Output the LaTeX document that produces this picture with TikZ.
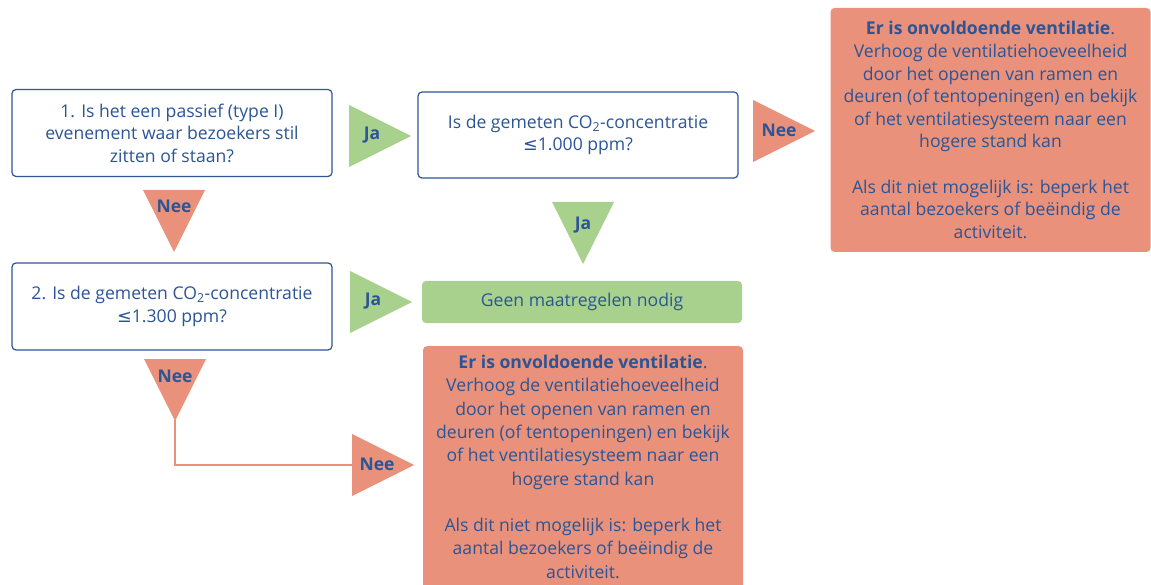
\documentclass[tikz,border=0pt]{standalone}
\usepackage{fontspec}
\setmainfont{Open Sans}
\newfontfamily\symfont{DejaVu Sans}
\definecolor{txtblue}{HTML}{2B5597}
\definecolor{boxblue}{HTML}{2F5597}
\definecolor{salmon}{HTML}{E9917B}
\definecolor{lgreen}{HTML}{A9D18E}
\newcommand{\lesym}{{\symfont ≤}}
\begin{document}
\begin{tikzpicture}[x=1pt,y=-1pt,
  every node/.style={text=txtblue, font=\fontsize{17.6}{22.6}\selectfont},
  qbox/.style={draw=boxblue, line width=1.2pt, rounded corners=4pt, fill=white,
    minimum width=320pt, align=center, inner sep=0pt},
  redbox/.style={fill=salmon, rounded corners=4pt, minimum width=320pt, inner sep=0pt, align=center},
  greenbox/.style={fill=lgreen, rounded corners=4pt, minimum width=320pt, minimum height=42pt, inner sep=0pt},
  lbl/.style={font=\fontsize{17.5}{18}\selectfont\bfseries, inner sep=0pt},
  conn/.style={draw=salmon, line width=2pt}
]
\useasboundingbox (0,0) rectangle (1151,585);
\clip (0,0) rectangle (1151,585);

% question boxes
\node[qbox, minimum height=87pt] (q1) at (172,133)
  {1. Is het een passief (type I)\\evenement waar bezoekers stil\\zitten of staan?};
\node[qbox, minimum height=86pt] (q1000) at (578,135)
  {Is de gemeten CO\textsubscript{2}-concentratie\\\lesym1.000 ppm?};
\node[qbox, minimum height=87pt] (q2) at (172,306.5)
  {2. Is de gemeten CO\textsubscript{2}-concentratie\\\lesym1.300 ppm?};

% outcome boxes
\node[greenbox] (geen) at (582,302) {Geen maatregelen nodig};
\node[redbox, minimum height=244pt] (red1) at (990.5,130)
  {\textbf{Er is onvoldoende ventilatie}.\\Verhoog de ventilatiehoeveelheid\\door het openen van ramen en\\deuren (of tentopeningen) en bekijk\\of het ventilatiesysteem naar een\\hogere stand kan\\[22.6pt]Als dit niet mogelijk is: beperk het\\aantal bezoekers of beëindig de\\activiteit.};
\node[redbox, minimum height=260pt, anchor=north] (red2) at (583,346) {};
\node[anchor=north, align=center, inner sep=0pt, font=\fontsize{17.6}{23.3}\selectfont] (red2txt) at (583,355)
  {\textbf{Er is onvoldoende ventilatie}.\\Verhoog de ventilatiehoeveelheid\\door het openen van ramen en\\deuren (of tentopeningen) en bekijk\\of het ventilatiesysteem naar een\\hogere stand kan\\[23.3pt]Als dit niet mogelijk is: beperk het\\aantal bezoekers of beëindig de\\activiteit.};

% triangles
\fill[lgreen] (349,105) -- (411,136) -- (349,167) -- cycle;
\node[lbl] (ja1) at (372,135) {Ja};
\fill[salmon] (753,100) -- (815,131) -- (753,162) -- cycle;
\node[lbl] (nee1) at (779,130) {Nee};
\fill[salmon] (143,190) -- (205,190) -- (174,252) -- cycle;
\node[lbl] (nee2) at (174,206) {Nee};
\fill[lgreen] (552,202) -- (614,202) -- (583,264) -- cycle;
\node[lbl] (ja3) at (583,225) {Ja};
\fill[lgreen] (350,271) -- (412,302) -- (350,333) -- cycle;
\node[lbl] (ja2) at (373,301) {Ja};

% connector from second Nee
\coordinate (n3apex) at (175,420);
\coordinate (n4left) at (353,465);
\draw[conn] (n3apex) |- (n4left);
\fill[salmon] (144,359) -- (206,359) -- (175,421) -- cycle;
\node[lbl] (nee3) at (175,376) {Nee};
\fill[salmon] (352,434) -- (414,465) -- (352,496) -- cycle;
\node[lbl] (nee4) at (377,464) {Nee};
\end{tikzpicture}
\end{document}
